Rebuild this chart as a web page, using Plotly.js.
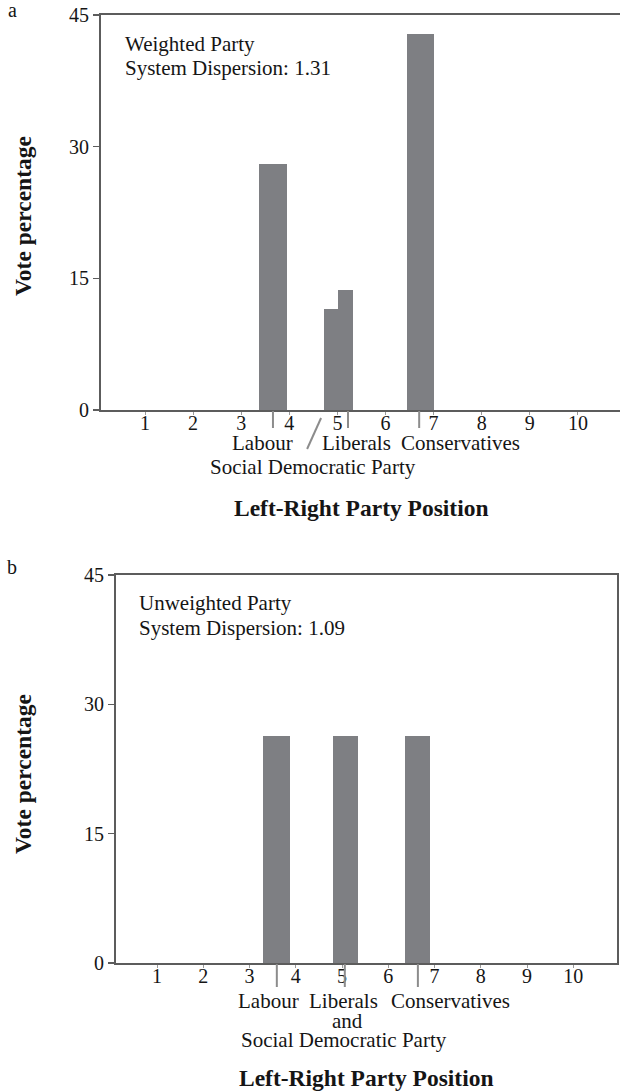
<!DOCTYPE html>
<html>
<head>
<meta charset="utf-8">
<script src="https://cdn.plot.ly/plotly-3.0.1.min.js"></script>
<style>html,body{margin:0;padding:0;background:#fff;}#chart{width:620px;height:1091px;}</style>
</head>
<body>
<div id="chart"></div>
<script>
// ---------- data ----------
const xTicks = [1, 2, 3, 4, 5, 6, 7, 8, 9, 10];
const yTicks = [0, 15, 30, 45];

// Panel a: weighted party system
const aParties = ['Labour', 'Social Democratic Party', 'Liberals', 'Conservatives'];
const aPos     = [3.66, 4.875, 5.165, 6.73];
const aVotes   = [28.0, 11.5, 13.7, 42.8];
const aMarkerParties = ['Labour', 'Liberals', 'Conservatives'];
const aMarkers = [3.66, 5.22, 6.70];

// Panel b: unweighted party system
const bParties = ['Labour', 'Liberals and Social Democratic Party', 'Conservatives'];
const bPos     = [3.58, 5.07, 6.63];
const bVotes   = [26.3, 26.3, 26.3];
const bMarkers = [3.59, 5.06, 6.64];

const aTitle = ['Weighted Party', 'System Dispersion: 1.31'];
const bTitle = ['Unweighted Party', 'System Dispersion: 1.09'];

// ---------- styles ----------
const aWidths = [0.58, 0.29, 0.31, 0.56];
const bWidths = [0.58, 0.55, 0.55];
const W = 620, H = 1091;
const px = v => v / W;
const py = v => 1 - v / H;
const FONT = 'Liberation Serif, Times New Roman, serif';
const BAR = '#7e7f83';
const AXIS = '#5c5c5c';
const TXT = '#151515';

const traces = [
  {type: 'bar', x: aPos, y: aVotes, width: aWidths, xaxis: 'x', yaxis: 'y',
   marker: {color: BAR, line: {width: 0}}, hoverinfo: 'skip', text: aParties, textposition: 'none'},
  {type: 'bar', x: bPos, y: bVotes, width: bWidths, xaxis: 'x2', yaxis: 'y2',
   marker: {color: BAR, line: {width: 0}}, hoverinfo: 'skip', text: bParties, textposition: 'none'}
];

function xax(domain, range, anchor) {
  return {domain: domain, range: range, anchor: anchor, tickmode: 'array', tickvals: xTicks,
    showline: true, linecolor: AXIS, linewidth: 2, mirror: true,
    ticks: 'outside', ticklen: 3, tickwidth: 1, tickcolor: '#9a9a9a',
    ticklabelstandoff: -9,
    tickfont: {family: FONT, size: 20, color: TXT},
    showgrid: false, zeroline: false, fixedrange: true};
}
function yax(domain, anchor, mirror) {
  return {domain: domain, range: [0, 45], anchor: anchor, tickmode: 'array', tickvals: yTicks,
    showline: true, linecolor: AXIS, linewidth: 2, mirror: mirror,
    ticks: 'outside', ticklen: 6, tickwidth: 1.5, tickcolor: AXIS,
    tickfont: {family: FONT, size: 20, color: TXT},
    showgrid: false, zeroline: false, fixedrange: true};
}

function ann(text, x, y, opts) {
  return Object.assign({text: text, xref: 'paper', yref: 'paper', x: px(x), y: py(y),
    xanchor: 'center', yanchor: 'middle', showarrow: false,
    font: {family: FONT, size: 21, color: TXT}}, opts || {});
}
const bold = {family: FONT, size: 23.5, color: TXT, weight: 'bold'};

const annotations = [
  ann('a', 12, 10, {font: {family: FONT, size: 20, color: TXT}}),
  ann('b', 12, 567, {font: {family: FONT, size: 20, color: TXT}}),
  ann(aTitle[0], 123, 44, {xanchor: 'left'}),
  ann(aTitle[1], 123, 68, {xanchor: 'left'}),
  ann(bTitle[0], 137, 603, {xanchor: 'left'}),
  ann(bTitle[1], 137, 628, {xanchor: 'left'}),
  ann('Vote percentage', 23, 216, {textangle: -90, font: bold}),
  ann('Vote percentage', 23, 774, {textangle: -90, font: bold}),
  ann('Left-Right Party Position', 361, 508, {font: bold}),
  ann('Left-Right Party Position', 366, 1078, {font: bold}),
  // panel a party labels
  ann(aParties[0], 262.5, 443),
  ann(aParties[2], 356, 443),
  ann(aParties[3], 460, 443),
  ann(aParties[1], 313, 467),
  // panel b party labels
  ann(bParties[0], 268, 1001),
  ann('Liberals', 343, 1001),
  ann(bParties[2], 450, 1001),
  ann('and', 347, 1021),
  ann('Social Democratic Party', 343.5, 1040)
];

const MK = '#8c8c8c';
const shapes = [];
aMarkers.forEach(m => shapes.push({type: 'line', xref: 'x', yref: 'paper', x0: m, x1: m,
  y0: py(411), y1: py(428), line: {color: MK, width: 2}}));
bMarkers.forEach(m => shapes.push({type: 'line', xref: 'x2', yref: 'paper', x0: m, x1: m,
  y0: py(964), y1: py(987), line: {color: MK, width: 2}}));
// leader slash for the Social Democratic Party
shapes.push({type: 'line', xref: 'x', yref: 'paper', x0: aPos[1] - 0.215, x1: aPos[1] - 0.505,
  y0: py(418), y1: py(449), line: {color: MK, width: 2}});

const layout = {
  width: W, height: H, margin: {l: 0, r: 0, t: 0, b: 0},
  paper_bgcolor: '#fff', plot_bgcolor: '#fff', showlegend: false,
  bargap: 0,
  xaxis: xax([px(101), 1], [0.085, 10.875], 'y'),
  yaxis: yax([py(410), py(15)], 'x', false),
  xaxis2: xax([px(116), px(617)], [0.113, 10.945], 'y2'),
  yaxis2: yax([py(963), py(575)], 'x2', true),
  annotations: annotations,
  shapes: shapes
};

Plotly.newPlot('chart', traces, layout, {staticPlot: true, displayModeBar: false});
</script>
</body>
</html>
